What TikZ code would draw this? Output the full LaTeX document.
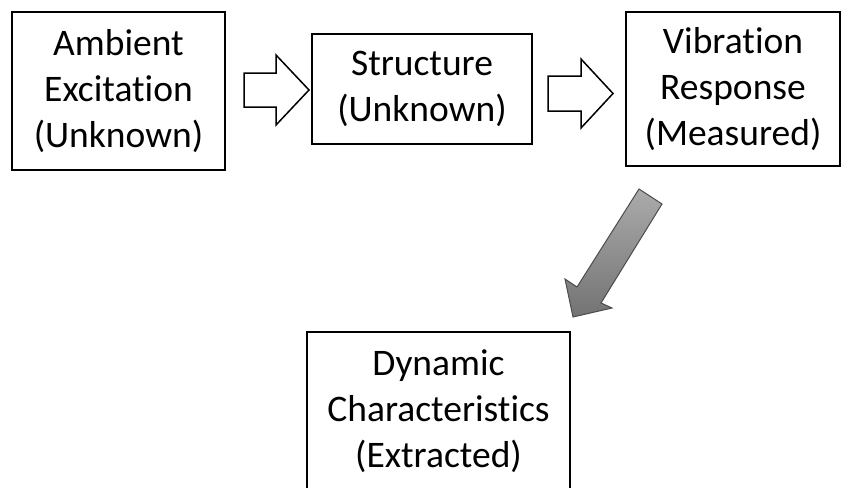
\documentclass[tikz,border=0pt]{standalone}
\usepackage{fontspec}
\setmainfont[Ligatures=NoCommon]{Carlito}
\usetikzlibrary{calc}
\begin{document}
\begin{tikzpicture}[x=1pt,y=-1pt,
  box/.style={draw=black, line width=2pt, align=center, inner sep=0pt,
    font=\fontsize{37.5}{46}\selectfont},
  blockarrow/.style={draw=black, fill=white, line width=1.5pt, line join=miter},
  grayarrow/.style={draw=black!70, line width=1pt, line join=miter,
    top color=black!33, bottom color=black!55}]
\clip (0,0) rectangle (842,487);
\node[box, minimum width=213pt, minimum height=158pt] (amb) at (118.5,91) {Ambient\\Excitation\\(Unknown)};
\node[box, minimum width=220pt, minimum height=110pt] (str) at (422,89) {Structure\\(Unknown)};
\node[box, minimum width=214pt, minimum height=154pt] (vib) at (733,89) {Vibration\\Response\\(Measured)};
\node[box, minimum width=263pt, minimum height=158pt] (dyn) at (438.5,411) {Dynamic\\Characteristics\\(Extracted)};
% block arrows
\draw[blockarrow] ($(amb.east)+(18,-1)$) ++(0,-17) -- ++(32,0) -- ++(0,-18) -- ++(33,35)
  -- ++(-33,35) -- ++(0,-18) -- ++(-32,0) -- cycle;
\draw[blockarrow] ($(str.east)+(15,4.5)$) ++(0,-17.5) -- ++(33,0) -- ++(0,-17) -- ++(32,34.5)
  -- ++(-32,34.5) -- ++(0,-17) -- ++(-33,0) -- cycle;
% gray arrow
\draw[grayarrow] (639,189) -- (662,204) -- (601,303) -- (612,308) -- (573,317)
  -- (565,279) -- (577,287) -- cycle;
\end{tikzpicture}
\end{document}
